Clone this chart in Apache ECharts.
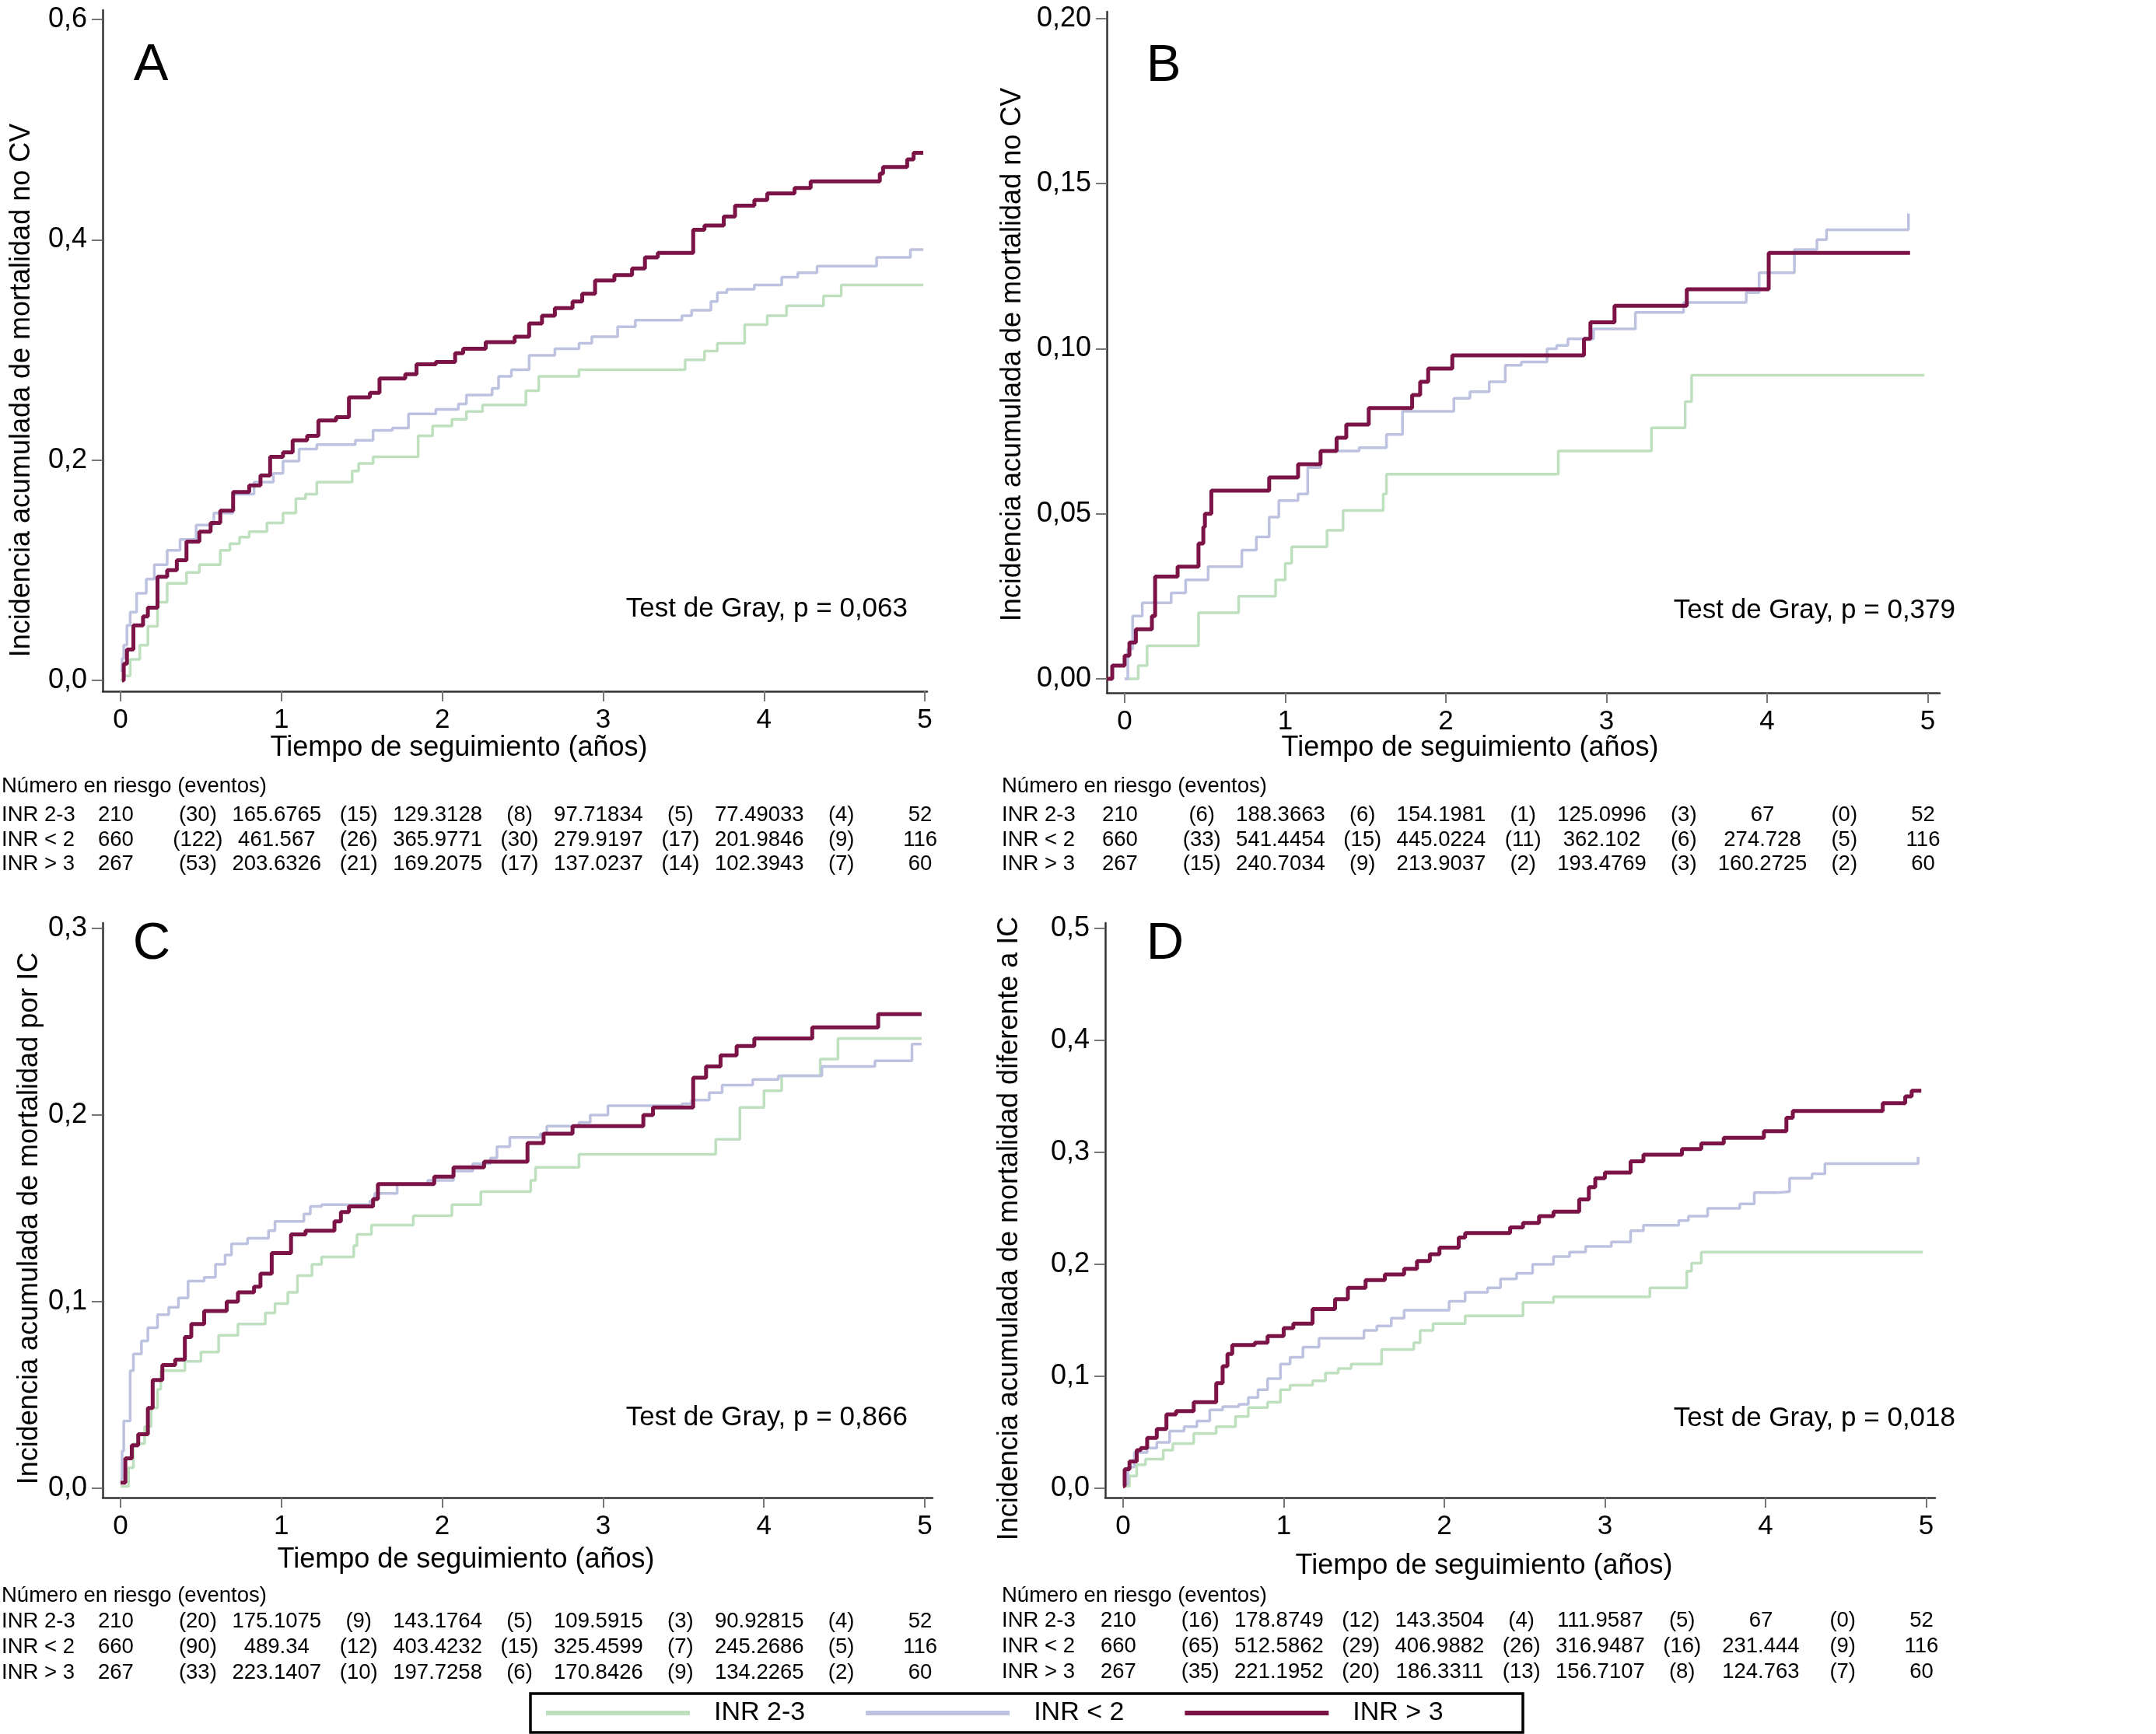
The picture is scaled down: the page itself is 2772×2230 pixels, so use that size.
<!DOCTYPE html>
<html>
<head>
<meta charset="utf-8">
<script src="https://cdn.jsdelivr.net/npm/echarts@6/dist/echarts.min.js"></script>
<style>
html,body{margin:0;padding:0;background:#fff;}
#chart{width:2772px;height:2230px;}
</style>
</head>
<body>
<div id="chart"></div>
<script>
// ---------------- DATA ----------------
const groupNames = ['INR 2-3', 'INR < 2', 'INR > 3'];
const xTicks = [0, 1, 2, 3, 4, 5];
const yTicksA = [0, 0.2, 0.4, 0.6];
const yTicksB = [0, 0.05, 0.10, 0.15, 0.20];
const yTicksC = [0, 0.1, 0.2, 0.3];
const yTicksD = [0, 0.1, 0.2, 0.3, 0.4, 0.5];
const panelLetters = ['A', 'B', 'C', 'D'];
const yTitles = [
  'Incidencia acumulada de mortalidad no CV',
  'Incidencia acumulada de mortalidad no CV',
  'Incidencia acumulada de mortalidad por IC',
  'Incidencia acumulada de mortalidad diferente a IC'
];
const xTitle = 'Tiempo de seguimiento (años)';
const grayTests = ['Test de Gray, p = 0,063', 'Test de Gray, p = 0,379', 'Test de Gray, p = 0,866', 'Test de Gray, p = 0,018'];
const riskTitle = 'Número en riesgo (eventos)';

// Panel A: mortalidad no CV
const A_INR23 = [[0,0],[0.02,0.004],[0.06,0.019],[0.12,0.032],[0.17,0.049],[0.23,0.071],[0.29,0.088],[0.41,0.098],[0.49,0.105],[0.62,0.118],[0.68,0.124],[0.74,0.13],[0.80,0.135],[0.91,0.143],[1.01,0.152],[1.09,0.165],[1.15,0.169],[1.22,0.18],[1.44,0.19],[1.48,0.197],[1.57,0.203],[1.85,0.222],[1.94,0.231],[2.06,0.237],[2.15,0.244],[2.25,0.25],[2.52,0.263],[2.60,0.276],[2.85,0.282],[3.51,0.291],[3.63,0.299],[3.71,0.306],[3.88,0.323],[4.02,0.331],[4.14,0.34],[4.37,0.349],[4.48,0.359],[4.99,0.359]];
const A_INR2 = [[0,0.009],[0.01,0.02],[0.02,0.032],[0.04,0.05],[0.06,0.062],[0.10,0.079],[0.16,0.092],[0.21,0.105],[0.29,0.118],[0.37,0.128],[0.47,0.141],[0.58,0.152],[0.70,0.169],[0.83,0.18],[0.95,0.188],[1.01,0.199],[1.11,0.21],[1.22,0.214],[1.46,0.218],[1.57,0.227],[1.69,0.229],[1.79,0.242],[1.96,0.246],[2.10,0.251],[2.15,0.259],[2.31,0.265],[2.35,0.276],[2.43,0.282],[2.54,0.295],[2.70,0.301],[2.85,0.306],[2.93,0.312],[3.09,0.321],[3.20,0.327],[3.49,0.331],[3.55,0.336],[3.67,0.344],[3.71,0.352],[3.77,0.355],[3.94,0.359],[4.11,0.366],[4.21,0.37],[4.33,0.376],[4.70,0.384],[4.91,0.391],[4.99,0.391]];
const A_INR3 = [[0.01,0],[0.02,0.015],[0.04,0.028],[0.08,0.05],[0.14,0.058],[0.17,0.066],[0.23,0.094],[0.29,0.1],[0.35,0.109],[0.41,0.126],[0.49,0.135],[0.56,0.143],[0.62,0.154],[0.70,0.171],[0.80,0.177],[0.87,0.186],[0.93,0.203],[1.01,0.207],[1.07,0.218],[1.16,0.222],[1.23,0.236],[1.34,0.239],[1.42,0.257],[1.55,0.261],[1.61,0.274],[1.77,0.278],[1.84,0.287],[1.96,0.289],[2.08,0.297],[2.13,0.301],[2.27,0.307],[2.45,0.312],[2.54,0.324],[2.62,0.331],[2.70,0.338],[2.81,0.344],[2.87,0.351],[2.95,0.363],[3.07,0.368],[3.18,0.374],[3.26,0.384],[3.34,0.388],[3.56,0.409],[3.63,0.413],[3.75,0.421],[3.82,0.431],[3.94,0.436],[4.02,0.442],[4.19,0.447],[4.29,0.453],[4.72,0.46],[4.74,0.466],[4.89,0.473],[4.93,0.479],[4.99,0.479]];

// Panel B
const B_INR23 = [[0,0],[0.085,0.004],[0.14,0.01],[0.46,0.02],[0.71,0.025],[0.94,0.03],[1.0,0.035],[1.04,0.04],[1.26,0.045],[1.36,0.051],[1.61,0.056],[1.63,0.062],[2.70,0.069],[3.28,0.076],[3.49,0.084],[3.53,0.092],[4.98,0.092]];
const B_INR2 = [[0,0],[0.02,0.009],[0.05,0.019],[0.11,0.023],[0.29,0.026],[0.38,0.03],[0.52,0.034],[0.73,0.039],[0.82,0.043],[0.90,0.049],[0.96,0.054],[1.08,0.056],[1.14,0.064],[1.22,0.069],[1.46,0.07],[1.63,0.074],[1.73,0.081],[2.05,0.085],[2.15,0.087],[2.27,0.09],[2.37,0.095],[2.47,0.096],[2.63,0.1],[2.69,0.101],[2.76,0.103],[2.92,0.106],[3.18,0.111],[3.48,0.114],[3.87,0.117],[3.95,0.123],[4.17,0.13],[4.31,0.133],[4.37,0.136],[4.88,0.141]];
const B_INR3 = [[-0.11,0],[-0.077,0.004],[0,0.007],[0.03,0.011],[0.07,0.015],[0.17,0.019],[0.19,0.031],[0.33,0.034],[0.46,0.041],[0.49,0.046],[0.50,0.05],[0.54,0.057],[0.90,0.061],[1.08,0.065],[1.22,0.069],[1.32,0.073],[1.38,0.077],[1.52,0.082],[1.79,0.086],[1.84,0.09],[1.89,0.094],[2.04,0.098],[2.86,0.103],[2.90,0.108],[3.05,0.113],[3.50,0.118],[4.01,0.129],[4.89,0.129]];

// Panel C
const C_INR23 = [[0,0.001],[0.05,0.011],[0.08,0.024],[0.15,0.033],[0.19,0.043],[0.23,0.053],[0.25,0.063],[0.40,0.068],[0.50,0.073],[0.61,0.082],[0.73,0.088],[0.90,0.094],[0.96,0.099],[1.04,0.105],[1.10,0.114],[1.19,0.12],[1.25,0.124],[1.45,0.13],[1.47,0.136],[1.56,0.141],[1.82,0.146],[2.06,0.152],[2.24,0.159],[2.55,0.165],[2.58,0.172],[2.85,0.179],[3.70,0.187],[3.85,0.204],[4.0,0.213],[4.11,0.221],[4.35,0.23],[4.46,0.241],[4.98,0.241]];
const C_INR2 = [[0,0.005],[0.01,0.02],[0.02,0.036],[0.06,0.063],[0.08,0.072],[0.13,0.079],[0.17,0.086],[0.23,0.093],[0.30,0.097],[0.36,0.102],[0.42,0.111],[0.52,0.113],[0.59,0.12],[0.65,0.125],[0.69,0.131],[0.79,0.134],[0.92,0.138],[0.96,0.143],[1.14,0.147],[1.18,0.151],[1.25,0.152],[1.55,0.154],[1.58,0.158],[1.72,0.163],[1.91,0.165],[2.07,0.17],[2.19,0.174],[2.30,0.177],[2.34,0.183],[2.42,0.188],[2.61,0.19],[2.65,0.194],[2.85,0.196],[2.92,0.2],[3.03,0.205],[3.49,0.206],[3.55,0.208],[3.66,0.212],[3.74,0.216],[3.93,0.219],[4.09,0.221],[4.36,0.226],[4.69,0.229],[4.92,0.238],[4.98,0.238]];
const C_INR3 = [[0,0.003],[0.03,0.016],[0.07,0.023],[0.11,0.029],[0.17,0.043],[0.20,0.058],[0.26,0.066],[0.34,0.069],[0.40,0.081],[0.44,0.088],[0.52,0.095],[0.66,0.1],[0.73,0.105],[0.83,0.108],[0.87,0.115],[0.94,0.126],[1.06,0.136],[1.15,0.138],[1.33,0.143],[1.37,0.148],[1.42,0.151],[1.57,0.155],[1.60,0.163],[1.95,0.167],[2.07,0.172],[2.26,0.175],[2.53,0.185],[2.63,0.19],[2.81,0.194],[3.25,0.2],[3.31,0.204],[3.56,0.22],[3.64,0.226],[3.73,0.232],[3.83,0.237],[3.94,0.241],[4.30,0.247],[4.71,0.254],[4.98,0.254]];

// Panel D
const D_INR23 = [[0.01,0.002],[0.04,0.011],[0.085,0.021],[0.14,0.026],[0.25,0.034],[0.31,0.04],[0.44,0.049],[0.58,0.055],[0.70,0.064],[0.78,0.072],[0.90,0.077],[0.98,0.088],[1.04,0.092],[1.18,0.096],[1.26,0.103],[1.34,0.107],[1.42,0.111],[1.61,0.124],[1.81,0.13],[1.85,0.141],[1.93,0.147],[2.13,0.154],[2.49,0.166],[2.68,0.171],[3.28,0.179],[3.51,0.194],[3.54,0.201],[3.60,0.211],[4.98,0.211]];
const D_INR2 = [[0,0.004],[0.03,0.019],[0.07,0.032],[0.15,0.036],[0.21,0.041],[0.29,0.051],[0.38,0.055],[0.46,0.06],[0.54,0.07],[0.62,0.073],[0.72,0.075],[0.78,0.081],[0.84,0.088],[0.90,0.098],[0.98,0.111],[1.04,0.117],[1.12,0.126],[1.22,0.134],[1.50,0.141],[1.58,0.145],[1.67,0.152],[1.75,0.159],[2.03,0.167],[2.13,0.175],[2.27,0.179],[2.35,0.187],[2.45,0.192],[2.55,0.2],[2.68,0.207],[2.78,0.211],[2.88,0.216],[3.04,0.22],[3.16,0.23],[3.24,0.235],[3.46,0.239],[3.52,0.243],[3.64,0.25],[3.84,0.254],[3.93,0.264],[4.07,0.265],[4.15,0.277],[4.29,0.281],[4.37,0.29],[4.95,0.296]];
const D_INR3 = [[0,0.002],[0.01,0.017],[0.04,0.024],[0.085,0.034],[0.11,0.036],[0.15,0.045],[0.21,0.053],[0.27,0.066],[0.33,0.069],[0.44,0.077],[0.58,0.094],[0.62,0.109],[0.65,0.12],[0.68,0.128],[0.82,0.13],[0.90,0.136],[1.0,0.143],[1.06,0.147],[1.18,0.16],[1.32,0.169],[1.40,0.179],[1.51,0.186],[1.63,0.191],[1.75,0.196],[1.83,0.203],[1.91,0.209],[1.97,0.215],[2.09,0.224],[2.13,0.228],[2.41,0.233],[2.49,0.237],[2.59,0.243],[2.68,0.247],[2.84,0.258],[2.90,0.269],[2.94,0.277],[3.0,0.282],[3.16,0.292],[3.24,0.298],[3.48,0.303],[3.60,0.308],[3.74,0.313],[3.99,0.319],[4.13,0.331],[4.17,0.337],[4.73,0.344],[4.87,0.35],[4.91,0.355],[4.97,0.355]];

// Risk tables
const A_atRisk = [['210','165.6765','129.3128','97.71834','77.49033','52'],['660','461.567','365.9771','279.9197','201.9846','116'],['267','203.6326','169.2075','137.0237','102.3943','60']];
const A_events = [['(30)','(15)','(8)','(5)','(4)'],['(122)','(26)','(30)','(17)','(9)'],['(53)','(21)','(17)','(14)','(7)']];
const B_atRisk = [['210','188.3663','154.1981','125.0996','67','52'],['660','541.4454','445.0224','362.102','274.728','116'],['267','240.7034','213.9037','193.4769','160.2725','60']];
const B_events = [['(6)','(6)','(1)','(3)','(0)'],['(33)','(15)','(11)','(6)','(5)'],['(15)','(9)','(2)','(3)','(2)']];
const C_atRisk = [['210','175.1075','143.1764','109.5915','90.92815','52'],['660','489.34','403.4232','325.4599','245.2686','116'],['267','223.1407','197.7258','170.8426','134.2265','60']];
const C_events = [['(20)','(9)','(5)','(3)','(4)'],['(90)','(12)','(15)','(7)','(5)'],['(33)','(10)','(6)','(9)','(2)']];
const D_atRisk = [['210','178.8749','143.3504','111.9587','67','52'],['660','512.5862','406.9882','316.9487','231.444','116'],['267','221.1952','186.3311','156.7107','124.763','60']];
const D_events = [['(16)','(12)','(4)','(5)','(0)'],['(65)','(29)','(26)','(16)','(9)'],['(35)','(20)','(13)','(8)','(7)']];

// ---------------- STYLE / LAYOUT ----------------
const FONT = '"Liberation Sans", Arial, Helvetica, sans-serif';
const COLORS = ['#bfe0bf', '#bcc2e0', '#7b1346'];
const WIDTHS = [3.5, 3.5, 5];

const panels = [
  {grid:{left:132, top:13, width:1060, height:876}, x:[-0.111, 5.014], y:[-0.0099, 0.6085], yTicks:yTicksA, dec:1,
   series:[A_INR23, A_INR2, A_INR3], atRisk:A_atRisk, events:A_events,
   letter:[194, 85], yTitle:[28, 502], xTitle:[590, 962], test:[1167, 783],
   tableLeft:2, tableTitleY:1011, rows:[1048, 1080, 1111]},
  {grid:{left:1423, top:15, width:1071, height:876}, x:[-0.111, 5.075], y:[-0.00424, 0.2021], yTicks:yTicksB, dec:2,
   series:[B_INR23, B_INR2, B_INR3], atRisk:B_atRisk, events:B_events,
   letter:[1496, 86], yTitle:[1302, 456], xTitle:[1890, 962], test:[2514, 785],
   tableLeft:1288, tableTitleY:1011, rows:[1048, 1080, 1111]},
  {grid:{left:132, top:1187, width:1067, height:739}, x:[-0.111, 5.048], y:[-0.005, 0.3029], yTicks:yTicksC, dec:1,
   series:[C_INR23, C_INR2, C_INR3], atRisk:C_atRisk, events:C_events,
   letter:[195, 1215], yTitle:[38, 1567], xTitle:[599, 2006], test:[1167, 1823],
   tableLeft:2, tableTitleY:2052, rows:[2085, 2118, 2151]},
  {grid:{left:1421, top:1187, width:1067, height:739}, x:[-0.111, 5.056], y:[-0.00833, 0.5049], yTicks:yTicksD, dec:1,
   series:[D_INR23, D_INR2, D_INR3], atRisk:D_atRisk, events:D_events,
   letter:[1498, 1215], yTitle:[1298, 1580], xTitle:[1908, 2014], test:[2514, 1824],
   tableLeft:1288, tableTitleY:2052, rows:[2084, 2117, 2150]}
];

const chart = echarts.init(document.getElementById('chart'), null, {renderer:'canvas'});

const grids = [], xAxes = [], yAxes = [], series = [];
panels.forEach((p, i) => {
  grids.push(Object.assign({containLabel:false}, p.grid));
  xAxes.push({
    type:'value', gridIndex:i, min:p.x[0], max:p.x[1],
    axisLine:{show:true, onZero:false, lineStyle:{color:'#333', width:2.5}},
    axisTick:{show:true, customValues:xTicks, length:13, lineStyle:{color:'#777', width:2}},
    axisLabel:{show:true, customValues:xTicks, margin:20, fontSize:35, fontFamily:FONT, color:'#000',
      formatter:v => String(Math.round(v))},
    splitLine:{show:false}
  });
  yAxes.push({
    type:'value', gridIndex:i, min:p.y[0], max:p.y[1],
    axisLine:{show:true, onZero:false, lineStyle:{color:'#333', width:2.5}},
    axisTick:{show:true, customValues:p.yTicks, length:14, lineStyle:{color:'#777', width:2}},
    axisLabel:{show:true, customValues:p.yTicks, margin:20, fontSize:36, fontFamily:FONT, color:'#000',
      formatter:v => v.toFixed(p.dec).replace('.', ',')},
    splitLine:{show:false}
  });
  p.series.forEach((d, k) => {
    series.push({
      type:'line', name:groupNames[k], xAxisIndex:i, yAxisIndex:i, data:d,
      step:'end', symbol:'none', showSymbol:false, silent:true,
      color:COLORS[k], itemStyle:{color:COLORS[k]},
      lineStyle:{color:COLORS[k], width:WIDTHS[k]}, z:2 + k
    });
  });
});

const option = {
  backgroundColor:'#ffffff',
  animation:false,
  grid:grids, xAxis:xAxes, yAxis:yAxes, series:series,
  legend:{
    show:true, left:702, top:2186, padding:0, orient:'horizontal',
    itemWidth:185, itemHeight:6, itemGap:78, icon:'rect', selectedMode:false,
    textStyle:{fontSize:34, fontFamily:FONT, color:'#000', padding:[0,0,0,26], width:128},
    data:groupNames
  }
};
chart.setOption(option);

// ---------------- TEXT OVERLAYS ----------------
const g = [];
function txt(str, x, y, size, align, valign, extra) {
  return Object.assign({
    type:'text', x:x, y:y, silent:true,
    style:{text:str, fontSize:size, fontFamily:FONT, fill:'#000', textAlign:align, textVerticalAlign:valign}
  }, extra || {});
}
panels.forEach((p, i) => {
  g.push(txt(panelLetters[i], p.letter[0], p.letter[1], 67, 'center', 'middle'));
  g.push(txt(yTitles[i], p.yTitle[0], p.yTitle[1], 36, 'center', 'middle', {rotation:Math.PI / 2}));
  g.push(txt(xTitle, p.xTitle[0], p.xTitle[1], 36, 'center', 'middle'));
  g.push(txt(grayTests[i], p.test[0], p.test[1], 35, 'right', 'middle'));
  // risk table
  g.push(txt(riskTitle, p.tableLeft, p.tableTitleY, 27.5, 'left', 'middle'));
  groupNames.forEach((name, r) => {
    const y = p.rows[r];
    g.push(txt(name, p.tableLeft, y, 27.5, 'left', 'middle'));
    p.atRisk[r].forEach((val, c) => {
      const x = chart.convertToPixel({xAxisIndex:i}, xTicks[c]) - 6;
      g.push(txt(val, x, y, 27.5, 'center', 'middle'));
    });
    p.events[r].forEach((val, c) => {
      const x = chart.convertToPixel({xAxisIndex:i}, xTicks[c] + 0.5) - 4;
      g.push(txt(val, x, y, 27.5, 'center', 'middle'));
    });
  });
});
// legend frame
g.push({type:'rect', silent:true, shape:{x:682, y:2178, width:1276, height:50},
  style:{fill:'none', stroke:'#000', lineWidth:3.5}});
chart.setOption({graphic:g});
</script>
</body>
</html>
